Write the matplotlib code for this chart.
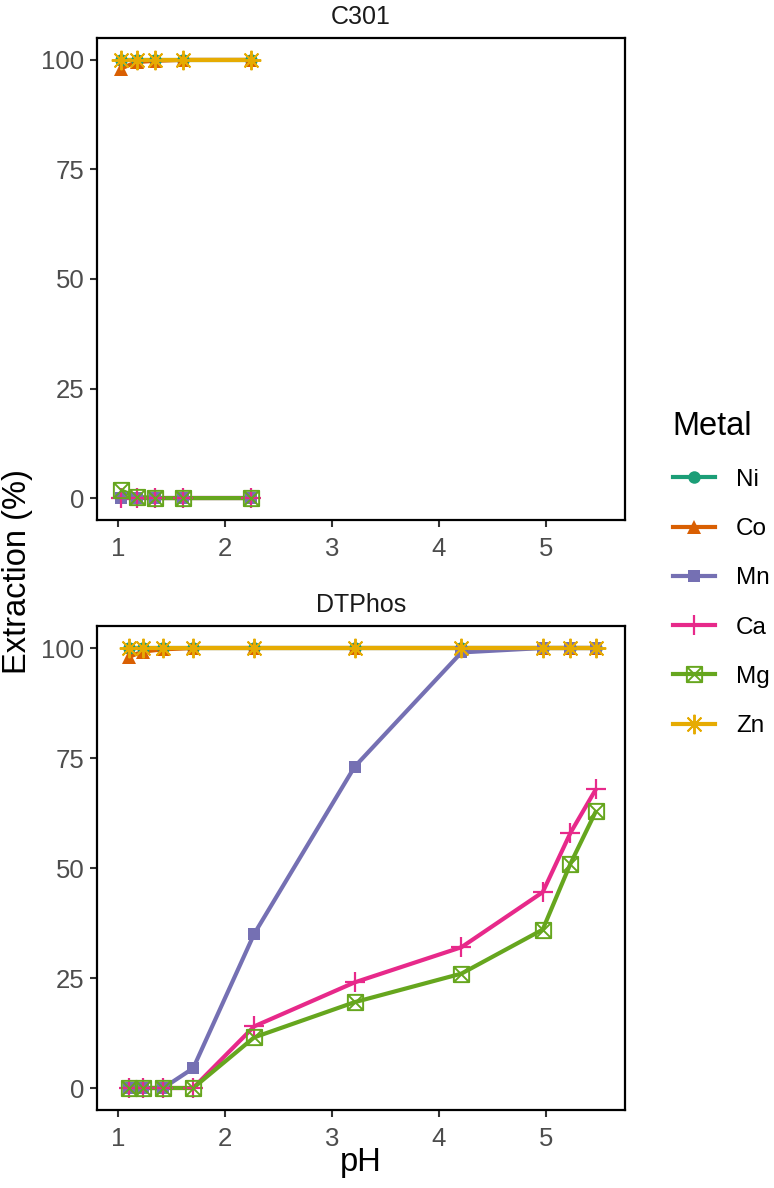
import numpy as np
import matplotlib
matplotlib.use('Agg')
import matplotlib.pyplot as plt
from matplotlib.path import Path
from matplotlib.lines import Line2D

plt.rcParams['font.family'] = ['Liberation Sans', 'DejaVu Sans']

metals = ['Ni', 'Co', 'Mn', 'Ca', 'Mg', 'Zn']
colors = ['#1B9E77', '#D95F02', '#7570B3', '#E7298A', '#66A61E', '#E6AB02']

# C301 panel
ph_c301 = [1.02, 1.17, 1.34, 1.60, 2.24]
c301 = {
    'Ni': [100, 100, 100, 100, 100],
    'Co': [98.0, 99.5, 99.8, 100, 100],
    'Mn': [0, 0, 0, 0, 0],
    'Ca': [0, 0, 0, 0, 0],
    'Mg': [1.8, 0.3, 0, 0, 0],
    'Zn': [100, 100, 100, 100, 100],
}

# DTPhos panel
ph_dtphos = [1.10, 1.23, 1.42, 1.70, 2.27, 3.21, 4.21, 4.97, 5.23, 5.47]
dtphos = {
    'Ni': [100, 100, 100, 100, 100, 100, 100, 100, 100, 100],
    'Co': [98.0, 99.2, 99.7, 100, 100, 100, 100, 100, 100, 100],
    'Mn': [0, 0, 0, 4.5, 35, 73, 99, 100, 100, 100],
    'Ca': [0, 0, 0, 0, 14, 24, 32, 44.5, 58, 68],
    'Mg': [0, 0, 0, 0, 11.5, 19.5, 26, 36, 51, 63],
    'Zn': [100, 100, 100, 100, 100, 100, 100, 100, 100, 100],
}

# ggplot-like shapes: 16, 17, 15, 3, 7, 8
sqx = Path([(-1, -1), (1, -1), (1, 1), (-1, 1), (-1, -1), (-1, -1), (1, 1), (1, -1), (-1, 1)],
           [Path.MOVETO, Path.LINETO, Path.LINETO, Path.LINETO, Path.CLOSEPOLY,
            Path.MOVETO, Path.LINETO, Path.MOVETO, Path.LINETO])
markers = {
    'Ni': dict(marker='o', ms=9, mew=0),
    'Co': dict(marker='^', ms=10, mew=0),
    'Mn': dict(marker='s', ms=9, mew=0),
    'Ca': dict(marker='+', ms=14, mew=1.6),
    'Mg': dict(marker=sqx, ms=11, mew=1.4, mfc='none'),
    'Zn': dict(marker=(8, 2, 0), ms=14, mew=1.4),
}

fig = plt.figure(figsize=(7.74, 11.88), dpi=100)
ax1 = fig.add_axes([97/774, 1-520/1188, 528/774, 482/1188])
ax2 = fig.add_axes([97/774, 1-1110/1188, 528/774, 484/1188])

for ax, ph, data, title in [(ax1, ph_c301, c301, 'C301'), (ax2, ph_dtphos, dtphos, 'DTPhos')]:
    for m, c in zip(metals, colors):
        ax.plot(ph, data[m], color=c, lw=3.0, zorder=2, solid_capstyle='butt')
    for m, c in zip(metals, colors):
        st = dict(markers[m])
        ax.plot(ph, data[m], ls='none', color=c, mec=c, zorder=3, **st)
    ax.set_xlim(0.80, 5.74)
    ax.set_ylim(-5, 105)
    ax.set_xticks([1, 2, 3, 4, 5])
    ax.set_yticks([0, 25, 50, 75, 100])
    ax.tick_params(labelsize=18.5, colors='#4D4D4D', length=5, width=1.5, pad=4)
    ax.tick_params(axis='x', pad=7)
    ax.tick_params(axis='both', which='both', color='#333333')
    for s in ax.spines.values():
        s.set_linewidth(1.6)
        s.set_color('black')
    ax.set_title(title, fontsize=18, color='#1A1A1A', pad=10)

fig.text(18/774, 1-572/1188, 'Extraction (%)', rotation=90, ha='center', va='center', fontsize=23.5)
fig.text(361/774, 1-1162/1188, 'pH', ha='center', va='center', fontsize=23.5)

handles = []
for m, c in zip(metals, colors):
    st = dict(markers[m])
    handles.append(Line2D([0], [0], color=c, lw=3.0, mec=c, **st))
leg = fig.legend(handles, metals, loc='upper left', bbox_to_anchor=(663/774, 1-401/1188),
                 frameon=False, fontsize=17.5, title='Metal', title_fontsize=23.5,
                 handlelength=1.75, handletextpad=0.85, labelspacing=1.12, borderaxespad=0)
leg._legend_box.align = 'left'

fig.savefig('out.png', dpi=100)
